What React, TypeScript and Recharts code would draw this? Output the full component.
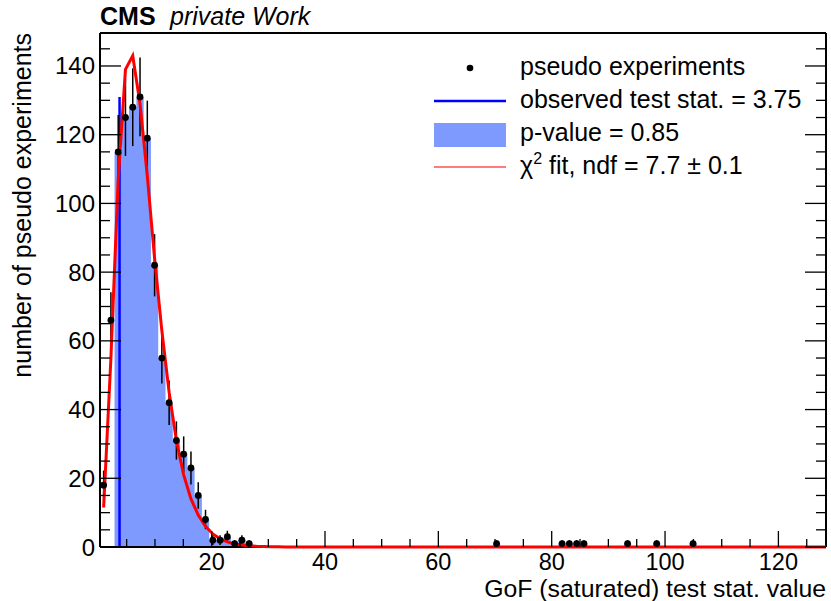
import React from 'react';
import {
  ComposedChart,
  XAxis,
  YAxis,
  Area,
  Line,
  Scatter,
  ErrorBar,
  ReferenceLine,
  Legend,
} from 'recharts';

const FONT = '"Liberation Sans", Arial, Helvetica, sans-serif';

// histogram binning of the toys
const X_MIN = 0.3;
const X_MAX = 128.4;
const BIN_WIDTH = 1.284;
const N_BINS = 100;
const Y_MAX = 149.6;

// non-empty bins: bin index and number of pseudo experiments
const binIndex = [
  0, 1, 2, 3, 4, 5, 6, 7, 8, 9, 10, 11, 12, 13, 14, 15, 16, 17, 18, 19, 20,
  54, 63, 64, 65, 66, 72, 76, 81,
];
const binCounts = [
  18, 66, 115, 125, 128, 131, 119, 82, 55, 42, 31, 27, 23, 15, 8, 2, 2, 3, 1, 2, 1,
  1, 1, 1, 1, 1, 1, 1, 1,
];

// chi2 fit at the bin centres (0 beyond)
const fitValues = [
  11.5, 55, 107, 139, 143, 129, 108, 84, 63, 45, 31, 21, 14, 9.3, 6, 3.8, 2.4, 1.5,
  0.9, 0.6, 0.35, 0.2, 0.13, 0.08, 0.05, 0.03,
];

const observedStat = 3.75;

const xTicks = [5, 10, 15, 20, 25, 30, 35, 40, 45, 50, 55, 60, 65, 70, 75, 80, 85, 90, 95, 100, 105, 110, 115, 120, 125];
const yTicks = [0, 5, 10, 15, 20, 25, 30, 35, 40, 45, 50, 55, 60, 65, 70, 75, 80, 85, 90, 95, 100, 105, 110, 115, 120, 125, 130, 135, 140, 145];

const legendLabels = [
  'pseudo experiments',
  'observed test stat. = 3.75',
  'p-value = 0.85',
  'fit, ndf = 7.7 \u00b1 0.1',
];

// build series
const lowEdge = (i: number) => X_MIN + i * BIN_WIDTH;
const centre = (i: number) => X_MIN + (i + 0.5) * BIN_WIDTH;

const counts: number[] = [];
for (let i = 0; i < N_BINS; i++) {
  const k = binIndex.indexOf(i);
  counts.push(k >= 0 ? binCounts[k] : 0);
}

const points = binIndex.map((b, k) => ({
  x: centre(b),
  y: binCounts[k],
  err: Math.sqrt(binCounts[k]),
}));

const obsBin = Math.floor((observedStat - X_MIN) / BIN_WIDTH);
const fillData: { x: number; y: number }[] = [];
for (let i = obsBin; i < N_BINS; i++) fillData.push({ x: lowEdge(i), y: counts[i] });

const fitData: { x: number; y: number }[] = [];
for (let i = 0; i < N_BINS; i++) fitData.push({ x: centre(i), y: fitValues[i] ?? 0 });
fitData.push({ x: X_MAX, y: 0 });

const obsTop = Math.max(...binCounts);

const BottomTick = ({ x, y, payload }: any) => {
  const v = payload.value;
  const major = v % 20 === 0;
  return (
    <g>
      <line x1={x} y1={y} x2={x} y2={y - (major ? 16 : 8)} stroke="#000" strokeWidth={1.3} />
      {major && (
        <text x={x} y={y + 23} textAnchor="middle" fontSize={23.5} fontFamily={FONT} fill="#000">
          {v}
        </text>
      )}
    </g>
  );
};

const TopTick = ({ x, y, payload }: any) => {
  const major = payload.value % 20 === 0;
  return <line x1={x} y1={y} x2={x} y2={y + (major ? 16 : 8)} stroke="#000" strokeWidth={1.3} />;
};

const LeftTick = ({ x, y, payload }: any) => {
  const v = payload.value;
  const major = v % 20 === 0;
  return (
    <g>
      <line x1={x} y1={y} x2={x + (major ? 21 : 10)} y2={y} stroke="#000" strokeWidth={1.3} />
      {major && (
        <text x={x - 5} y={y + 8.5} textAnchor="end" fontSize={24} fontFamily={FONT} fill="#000">
          {v}
        </text>
      )}
    </g>
  );
};

const RightTick = ({ x, y, payload }: any) => {
  const major = payload.value % 20 === 0;
  return <line x1={x} y1={y} x2={x - (major ? 21 : 10)} y2={y} stroke="#000" strokeWidth={1.3} />;
};

const LegendBox = () => (
  <svg width={400} height={140} style={{ display: 'block' }} fontFamily={FONT} fontSize={25}>
    <circle cx={50} cy={18} r={3.3} fill="#000" />
    <text x={100} y={25}>{legendLabels[0]}</text>
    <line x1={14} y1={51} x2={86} y2={51} stroke="#0000ff" strokeWidth={2.5} />
    <text x={100} y={58}>{legendLabels[1]}</text>
    <rect x={14} y={73} width={72} height={24} fill="#7f9aff" />
    <text x={100} y={91}>{legendLabels[2]}</text>
    <line x1={14} y1={117} x2={86} y2={117} stroke="#ff5050" strokeWidth={1.5} />
    <text x={100} y={124}>
      {'\u03c7'}
      <tspan fontSize={16} dy={-10}>2</tspan>
      <tspan dy={10}>{' ' + legendLabels[3]}</tspan>
    </text>
  </svg>
);

export default function App() {
  return (
    <div style={{ width: 831, height: 601, background: '#fff' }}>
      <style>{'body{margin:0}'}</style>
      <ComposedChart width={831} height={601} margin={{ top: 0, right: 0, bottom: 0, left: 0 }}>
        <XAxis
          xAxisId="b"
          dataKey="x"
          type="number"
          domain={[X_MIN, X_MAX]}
          ticks={xTicks}
          interval={0}
          height={54}
          tickSize={0}
          tickMargin={0}
          tickLine={false}
          tick={<BottomTick />}
          axisLine={{ stroke: '#000', strokeWidth: 2 }}
          label={() => (
            <text x={826} y={597} textAnchor="end" fontSize={24.8} fontFamily={FONT} fill="#000">
              GoF (saturated) test stat. value
            </text>
          )}
        />
        <XAxis
          xAxisId="t"
          orientation="top"
          type="number"
          domain={[X_MIN, X_MAX]}
          allowDataOverflow
          ticks={xTicks}
          interval={0}
          height={33}
          tickSize={0}
          tickMargin={0}
          tickLine={false}
          tick={<TopTick />}
          axisLine={{ stroke: '#000', strokeWidth: 2 }}
          label={() => (
            <text x={100} y={25} fontSize={25} fontFamily={FONT} fill="#000">
              <tspan fontWeight="bold">CMS</tspan>
              <tspan x={170} fontStyle="italic">private Work</tspan>
            </text>
          )}
        />
        <YAxis
          yAxisId="l"
          dataKey="y"
          type="number"
          domain={[0, Y_MAX]}
          ticks={yTicks}
          interval={0}
          width={100}
          tickSize={0}
          tickMargin={0}
          tickLine={false}
          tick={<LeftTick />}
          axisLine={{ stroke: '#000', strokeWidth: 2 }}
          label={() => (
            <text
              x={31}
              y={33}
              transform="rotate(-90, 31, 33)"
              textAnchor="end"
              fontSize={25}
              fontFamily={FONT}
              fill="#000"
            >
              number of pseudo experiments
            </text>
          )}
        />
        <YAxis
          yAxisId="r"
          orientation="right"
          type="number"
          domain={[0, Y_MAX]}
          allowDataOverflow
          ticks={yTicks}
          interval={0}
          width={5}
          tickSize={0}
          tickMargin={0}
          tickLine={false}
          tick={<RightTick />}
          axisLine={{ stroke: '#000', strokeWidth: 2 }}
        />
        <Legend
          layout="vertical"
          align="center"
          verticalAlign="middle"
          wrapperStyle={{ left: 420, top: 50, width: 400, height: 140 }}
          content={() => <LegendBox />}
        />
        <Area
          xAxisId="b"
          yAxisId="l"
          data={fillData}
          dataKey="y"
          type="stepAfter"
          fill="#7f9aff"
          fillOpacity={1}
          stroke="none"
          isAnimationActive={false}
        />
        <ReferenceLine
          xAxisId="b"
          yAxisId="l"
          segment={[
            { x: observedStat, y: 0 },
            { x: observedStat, y: obsTop },
          ]}
          stroke="#0000ff"
          strokeWidth={2.5}
        />
        <Line
          xAxisId="b"
          yAxisId="l"
          data={fitData}
          dataKey="y"
          type="linear"
          stroke="#ff0000"
          strokeWidth={3}
          dot={false}
          zIndex={550}
          isAnimationActive={false}
        />
        <Scatter
          xAxisId="b"
          yAxisId="l"
          data={points}
          dataKey="y"
          zIndex={650}
          isAnimationActive={false}
          shape={(p: any) => <circle cx={p.cx} cy={p.cy} r={3.4} fill="#000" />}
        >
          <ErrorBar dataKey="err" direction="y" width={0} stroke="#000" strokeWidth={1.5} isAnimationActive={false} />
        </Scatter>
      </ComposedChart>
    </div>
  );
}
